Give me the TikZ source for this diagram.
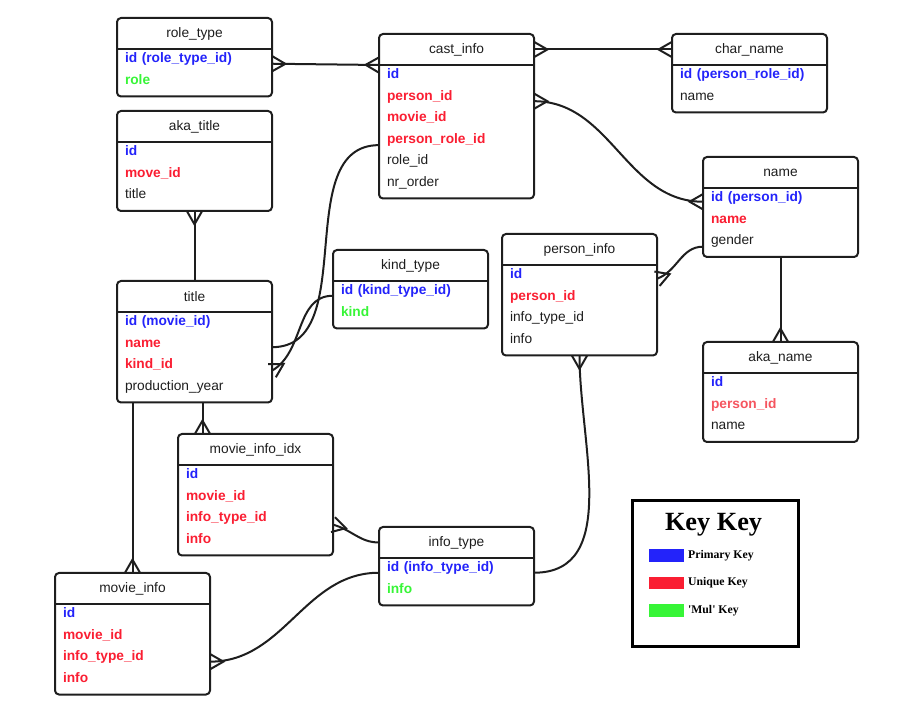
\documentclass[tikz,border=0pt]{standalone}
\usepackage{fontspec}
\setmainfont{Liberation Sans}
\newfontfamily\keyfont{Liberation Serif}
\usetikzlibrary{positioning,arrows.meta}
\definecolor{pkblue}{RGB}{35,35,250}
\definecolor{ukred}{RGB}{250,30,50}
\definecolor{ukpink}{RGB}{245,85,95}
\definecolor{mulgreen}{RGB}{55,245,55}
\definecolor{ink}{RGB}{30,30,30}
\newcommand{\tblfont}{\fontsize{10.3pt}{12pt}\selectfont}

% crow's foot end for the many-side of a relation
\pgfdeclarearrow{
  name = Crow,
  parameters = {\the\pgfarrowlength,\the\pgfarrowwidth},
  setup code = {
    \pgfarrowssettipend{0pt}
    \pgfarrowssetlineend{0pt}
    \pgfarrowssetvisualbackend{-\pgfarrowlength}
    \pgfarrowssetbackend{-\pgfarrowlength}
    \pgfarrowsupperhullpoint{0pt}{.5\pgfarrowwidth}
    \pgfarrowshullpoint{-\pgfarrowlength}{0pt}
    \pgfarrowssavethe\pgfarrowlength
    \pgfarrowssavethe\pgfarrowwidth
  },
  drawing code = {
    \pgfsetdash{}{0pt}
    \pgfpathmoveto{\pgfqpoint{0pt}{.5\pgfarrowwidth}}
    \pgfpathlineto{\pgfqpoint{-\pgfarrowlength}{0pt}}
    \pgfpathlineto{\pgfqpoint{0pt}{-.5\pgfarrowwidth}}
    \pgfusepathqstroke
  },
  defaults = {length = 10pt, width = 11.5pt}
}

\begin{document}
\begin{tikzpicture}[
  x=0.75pt, y=0.75pt,
  tbl/.style={draw=ink, line width=1.5pt, rounded corners=3pt, anchor=north west,
              minimum width=116.25pt, inner sep=0pt, outer sep=0pt},
  hdr/.style={minimum width=116.25pt, minimum height=23.25pt, inner sep=0pt,
              outer sep=0pt, font=\tblfont, text=ink},
  fld/.style={text width=104.25pt, inner xsep=6pt, inner ysep=0pt, outer sep=0pt,
              align=left, text height=10.4pt, text depth=5.7pt, font=\tblfont, text=ink},
  pk/.style={fld, text=pkblue, font=\tblfont\bfseries},
  uk/.style={fld, text=ukred, font=\tblfont\bfseries},
  mul/.style={fld, text=mulgreen, font=\tblfont\bfseries},
  hline/.style={draw=ink, line width=1.5pt},
  link/.style={draw=ink, line width=1.5pt},
  keybox/.style={draw=black, line width=2.3pt, anchor=north west, inner sep=0pt,
                 minimum width=124.5pt, minimum height=109.5pt},
  keyhd/.style={font=\keyfont\bfseries\fontsize{19.7pt}{22pt}\selectfont, inner sep=0pt},
  swatch/.style={anchor=north west, minimum width=26.25pt, minimum height=9.4pt, inner sep=0pt},
  keylbl/.style={font=\keyfont\bfseries\fontsize{8.8pt}{10pt}\selectfont, inner sep=0pt},
]
\useasboundingbox (0,0) rectangle (901,-720);

% role_type
\node[tbl, minimum height=58.875pt] (rt) at (117,-18) {};
\node[hdr, below=0pt of rt.north] (rt-h) {role\_type};
\draw[hline] (rt-h.south west) -- (rt-h.south east);
\node[pk, below=0pt of rt-h] (rt-1) {id (role\_type\_id)};
\node[mul, below=0pt of rt-1] (rt-2) {role};

% cast_info
\node[tbl, minimum height=123.375pt] (ci) at (379,-34) {};
\node[hdr, below=0pt of ci.north] (ci-h) {cast\_info};
\draw[hline] (ci-h.south west) -- (ci-h.south east);
\node[pk, below=0pt of ci-h] (ci-1) {id};
\node[uk, below=0pt of ci-1] (ci-2) {person\_id};
\node[uk, below=0pt of ci-2] (ci-3) {movie\_id};
\node[uk, below=0pt of ci-3] (ci-4) {person\_role\_id};
\node[fld, below=0pt of ci-4] (ci-5) {role\_id};
\node[fld, below=0pt of ci-5] (ci-6) {nr\_order};

% char_name
\node[tbl, minimum height=58.875pt] (cn) at (672,-34) {};
\node[hdr, below=0pt of cn.north] (cn-h) {char\_name};
\draw[hline] (cn-h.south west) -- (cn-h.south east);
\node[pk, below=0pt of cn-h] (cn-1) {id (person\_role\_id)};
\node[fld, below=0pt of cn-1] (cn-2) {name};

% aka_title
\node[tbl, minimum height=75pt] (akt) at (117,-111) {};
\node[hdr, below=0pt of akt.north] (akt-h) {aka\_title};
\draw[hline] (akt-h.south west) -- (akt-h.south east);
\node[pk, below=0pt of akt-h] (akt-1) {id};
\node[uk, below=0pt of akt-1] (akt-2) {move\_id};
\node[fld, below=0pt of akt-2] (akt-3) {title};

% name
\node[tbl, minimum height=75pt] (nm) at (703,-157) {};
\node[hdr, below=0pt of nm.north] (nm-h) {name};
\draw[hline] (nm-h.south west) -- (nm-h.south east);
\node[pk, below=0pt of nm-h] (nm-1) {id (person\_id)};
\node[uk, below=0pt of nm-1] (nm-2) {name};
\node[fld, below=0pt of nm-2] (nm-3) {gender};

% kind_type
\node[tbl, minimum height=58.875pt] (kt) at (333,-250) {};
\node[hdr, below=0pt of kt.north] (kt-h) {kind\_type};
\draw[hline] (kt-h.south west) -- (kt-h.south east);
\node[pk, below=0pt of kt-h] (kt-1) {id (kind\_type\_id)};
\node[mul, below=0pt of kt-1] (kt-2) {kind};

% person_info
\node[tbl, minimum height=91.125pt] (pi) at (502,-234) {};
\node[hdr, below=0pt of pi.north] (pi-h) {person\_info};
\draw[hline] (pi-h.south west) -- (pi-h.south east);
\node[pk, below=0pt of pi-h] (pi-1) {id};
\node[uk, below=0pt of pi-1] (pi-2) {person\_id};
\node[fld, below=0pt of pi-2] (pi-3) {info\_type\_id};
\node[fld, below=0pt of pi-3] (pi-4) {info};

% title
\node[tbl, minimum height=91.125pt] (ti) at (117,-281) {};
\node[hdr, below=0pt of ti.north] (ti-h) {title};
\draw[hline] (ti-h.south west) -- (ti-h.south east);
\node[pk, below=0pt of ti-h] (ti-1) {id (movie\_id)};
\node[uk, below=0pt of ti-1] (ti-2) {name};
\node[uk, below=0pt of ti-2] (ti-3) {kind\_id};
\node[fld, below=0pt of ti-3] (ti-4) {production\_year};

% aka_name
\node[tbl, minimum height=75pt] (akn) at (703,-342) {};
\node[hdr, below=0pt of akn.north] (akn-h) {aka\_name};
\draw[hline] (akn-h.south west) -- (akn-h.south east);
\node[pk, below=0pt of akn-h] (akn-1) {id};
\node[uk, text=ukpink, below=0pt of akn-1] (akn-2) {person\_id};
\node[fld, below=0pt of akn-2] (akn-3) {name};

% movie_info_idx
\node[tbl, minimum height=91.125pt] (mii) at (178,-434) {};
\node[hdr, below=0pt of mii.north] (mii-h) {movie\_info\_idx};
\draw[hline] (mii-h.south west) -- (mii-h.south east);
\node[pk, below=0pt of mii-h] (mii-1) {id};
\node[uk, below=0pt of mii-1] (mii-2) {movie\_id};
\node[uk, below=0pt of mii-2] (mii-3) {info\_type\_id};
\node[uk, below=0pt of mii-3] (mii-4) {info};

% info_type
\node[tbl, minimum height=58.875pt] (it) at (379,-527) {};
\node[hdr, below=0pt of it.north] (it-h) {info\_type};
\draw[hline] (it-h.south west) -- (it-h.south east);
\node[pk, below=0pt of it-h] (it-1) {id (info\_type\_id)};
\node[mul, below=0pt of it-1] (it-2) {info};

% movie_info
\node[tbl, minimum height=91.125pt] (mi) at (55,-573) {};
\node[hdr, below=0pt of mi.north] (mi-h) {movie\_info};
\draw[hline] (mi-h.south west) -- (mi-h.south east);
\node[pk, below=0pt of mi-h] (mi-1) {id};
\node[uk, below=0pt of mi-1] (mi-2) {movie\_id};
\node[uk, below=0pt of mi-2] (mi-3) {info\_type\_id};
\node[uk, below=0pt of mi-3] (mi-4) {info};

% Key
\node[keybox] (key) at (631,-499) {};
\node[keyhd] (key-h) at ([xshift=-1.5pt,yshift=-19pt]key.north) {Key Key};
\node[swatch, fill=pkblue] (sw1) at (649,-549) {};
\node[swatch, fill=ukred, below=10.9pt of sw1] (sw2) {};
\node[swatch, fill=mulgreen, below=10.9pt of sw2] (sw3) {};
\node[keylbl, right=2.5pt of sw1] (kl1) {Primary Key};
\node[keylbl, right=2.5pt of sw2] (kl2) {Unique Key};
\node[keylbl, right=2.5pt of sw3] (kl3) {'Mul' Key};

% Relations
\coordinate (ti-b) at ([xshift=6pt]ti.south);
\draw[link, Crow-Crow] ([yshift=-3pt]rt-1.east) -- (ci-h.south west);
\draw[link, Crow-Crow] (ci-h.east) -- (cn-h.west);
\draw[link, Crow-Crow] ([yshift=-3pt]ci-2.east) to[out=0,in=180] ([yshift=-2.25pt]nm-1.west);
\draw[link] ([yshift=-3.75pt]ci-4.west) to[out=180,in=0] ([yshift=-2.25pt]ti-2.east);
\draw[link, -Crow] ([yshift=-3pt]kt-1.west) to[out=180,in=30] ([yshift=-3.75pt]ti-3.east);
\draw[link, -Crow] (ti.north) -- (akt.south);
\draw[link, -Crow] (ti-b) -- (ti-b |- mii.north);
\draw[link, -Crow] (ti.south -| mi.north) -- (mi.north);
\draw[link, Crow-] ([yshift=-4.5pt]mii-3.east) to[out=-15,in=180] (it-h.west);
\draw[link, -Crow] ([yshift=-3pt]it-1.west) to[out=180,in=0] ([yshift=-3pt]mi-3.east);
\draw[link, -Crow] ([yshift=-3pt]it-1.east) to[out=0,in=-90] (pi.south);
\draw[link, -Crow] ([yshift=-3.75pt]nm-3.west) to[out=180,in=20] ([yshift=-2.25pt]pi-1.east);
\draw[link, -Crow] (nm.south) -- (akn.north);

\end{tikzpicture}
\end{document}
